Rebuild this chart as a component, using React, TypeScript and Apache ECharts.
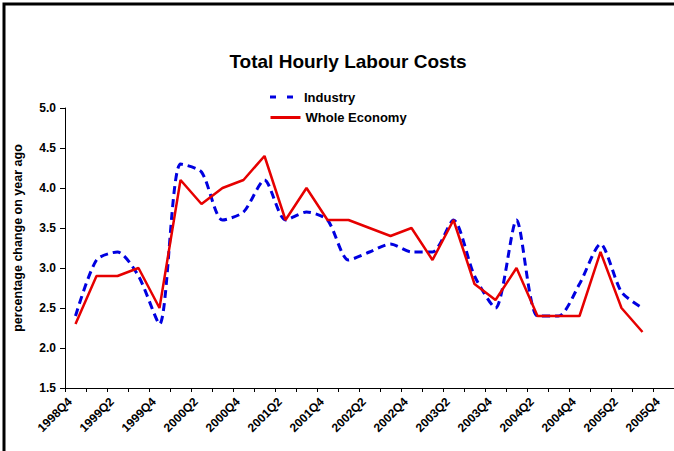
import React, { useEffect, useRef } from "react";
import * as echarts from "echarts";

// Quarterly categories, 1998Q4 – 2005Q4
const quarters: string[] = [
  "1998Q4",
  "1999Q1", "1999Q2", "1999Q3", "1999Q4",
  "2000Q1", "2000Q2", "2000Q3", "2000Q4",
  "2001Q1", "2001Q2", "2001Q3", "2001Q4",
  "2002Q1", "2002Q2", "2002Q3", "2002Q4",
  "2003Q1", "2003Q2", "2003Q3", "2003Q4",
  "2004Q1", "2004Q2", "2004Q3", "2004Q4",
  "2005Q1", "2005Q2", "2005Q3", "2005Q4",
];

// Percentage change on year ago
const industry: number[] = [
  2.4, 3.1, 3.2, 2.9, 2.3, 4.3, 4.2, 3.6, 3.7, 4.1,
  3.6, 3.7, 3.6, 3.1, 3.2, 3.3, 3.2, 3.2, 3.6, 2.9,
  2.5, 3.6, 2.4, 2.4, 2.8, 3.3, 2.7, 2.5,
];

const wholeEconomy: number[] = [
  2.3, 2.9, 2.9, 3.0, 2.5, 4.1, 3.8, 4.0, 4.1, 4.4,
  3.6, 4.0, 3.6, 3.6, 3.5, 3.4, 3.5, 3.1, 3.6, 2.8,
  2.6, 3.0, 2.4, 2.4, 2.4, 3.2, 2.5, 2.2,
];

const FONT = "Arial, 'Liberation Sans', sans-serif";
const RED = "#e60000";
const BLUE = "#0000e0";

const LEGEND_LEFT = 269;
const LEGEND_TOP = 90;

const legendBase = {
  orient: "vertical",
  left: LEGEND_LEFT,
  padding: 0,
  itemWidth: 30,
  itemHeight: 14,
  itemStyle: { opacity: 0 },
  textStyle: { fontFamily: FONT, fontSize: 13, fontWeight: "bold", color: "#000" },
};

export default function App() {
  const ref = useRef<HTMLDivElement>(null);

  useEffect(() => {
    if (!ref.current) return;
    const chart = echarts.init(ref.current, undefined, { renderer: "svg" });
    chart.setOption({
      animation: false,
      backgroundColor: "#ffffff",
      title: {
        text: "Total Hourly Labour Costs",
        left: 343,
        textAlign: "center",
        top: 47,
        textStyle: { fontFamily: FONT, fontSize: 19, fontWeight: "bold", color: "#000" },
      },
      legend: [
        {
          ...legendBase,
          top: LEGEND_TOP,
          // plain (transparent) icon; the dashed key is drawn as two short bars below
          data: [{ name: "Industry", icon: "rect" }],
        },
        {
          ...legendBase,
          top: LEGEND_TOP + 21,
          data: ["Whole Economy"],
          lineStyle: { type: "solid", width: 3 },
        },
      ],
      grid: { left: 65, top: 108, width: 609, height: 280 },
      xAxis: {
        type: "category",
        data: quarters,
        boundaryGap: true,
        axisLine: { lineStyle: { color: "#000", width: 1 } },
        axisTick: { show: true, interval: 0, length: 4, lineStyle: { color: "#000" } },
        axisLabel: {
          interval: 1,
          rotate: 45,
          margin: 6,
          padding: [0, 8, 0, 0],
          fontFamily: FONT,
          fontSize: 12,
          fontWeight: "bold",
          color: "#000",
        },
        splitLine: { show: false },
      },
      yAxis: {
        type: "value",
        min: 1.5,
        max: 5.0,
        interval: 0.5,
        axisLine: { show: true, lineStyle: { color: "#000", width: 1 } },
        axisTick: { show: true, length: 5, lineStyle: { color: "#000" } },
        axisLabel: {
          margin: 9,
          fontFamily: FONT,
          fontSize: 12,
          fontWeight: "bold",
          color: "#000",
          formatter: (v: number) => v.toFixed(1),
        },
        splitLine: { show: false },
      },
      series: [
        {
          name: "Industry",
          type: "line",
          data: industry,
          symbol: "none",
          smooth: 0.25,
          lineStyle: { color: BLUE, width: 3, type: [8, 5] },
          itemStyle: { color: BLUE },
          z: 2,
        },
        {
          name: "Whole Economy",
          type: "line",
          data: wholeEconomy,
          symbol: "none",
          lineStyle: { color: RED, width: 2.5 },
          itemStyle: { color: RED },
          z: 3,
        },
      ],
      graphic: [
        {
          type: "rect",
          shape: { x: 4, y: 4, width: 720, height: 520 },
          style: { fill: "none", stroke: "#000", lineWidth: 3 },
          silent: true,
        },
        // dashed key for "Industry"
        {
          type: "rect",
          shape: { x: LEGEND_LEFT + 1, y: LEGEND_TOP + 5.5, width: 6, height: 3 },
          style: { fill: BLUE },
          silent: true,
        },
        {
          type: "rect",
          shape: { x: LEGEND_LEFT + 18, y: LEGEND_TOP + 5.5, width: 6, height: 3 },
          style: { fill: BLUE },
          silent: true,
        },
        {
          type: "text",
          x: 18,
          y: 238,
          rotation: Math.PI / 2,
          style: {
            text: "percentage change on year ago",
            fontFamily: FONT,
            fontSize: 12.5,
            fontWeight: "bold",
            fill: "#000",
            align: "center",
            verticalAlign: "middle",
          },
        },
      ],
    });
    return () => chart.dispose();
  }, []);

  return (
    <div
      ref={ref}
      style={{ position: "absolute", left: 0, top: 0, width: 674, height: 451 }}
    />
  );
}
